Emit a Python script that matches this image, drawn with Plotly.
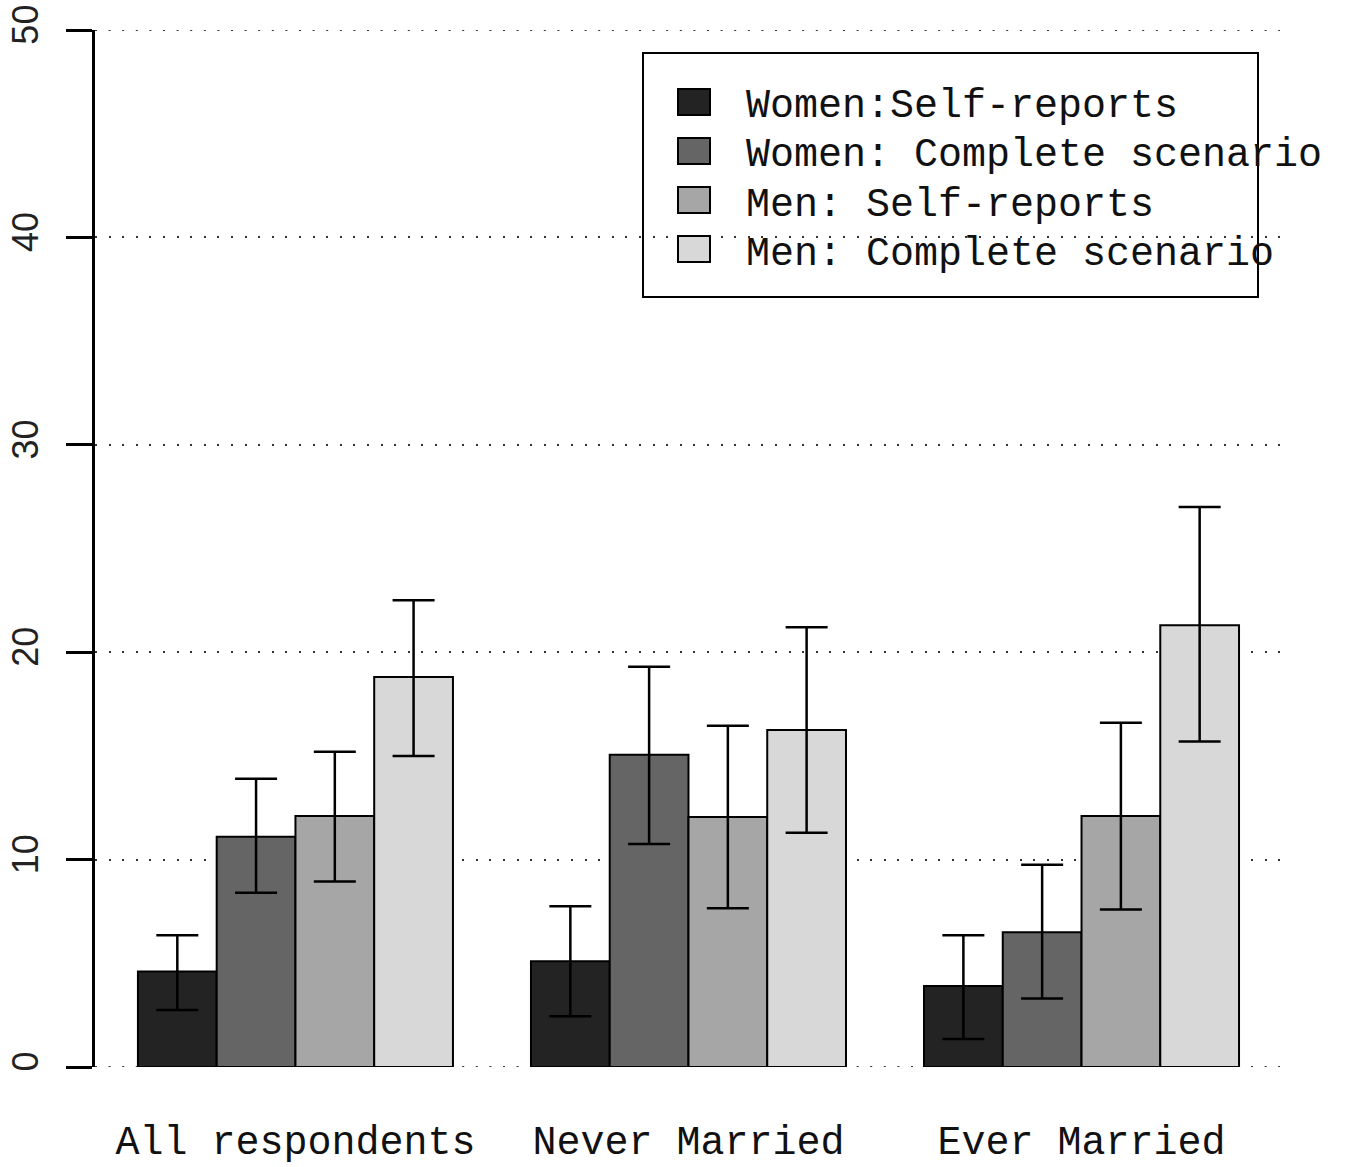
import plotly.graph_objects as go

categories = ["All respondents", "Never Married", "Ever Married"]
series_names = ["Women:Self-reports", "Women: Complete scenario",
                "Men: Self-reports", "Men: Complete scenario"]
colors = ["#232323", "#656565", "#a6a6a6", "#d8d8d8"]

women_self = [4.6, 5.1, 3.9]
women_complete = [11.1, 15.05, 6.5]
men_self = [12.1, 12.05, 12.1]
men_complete = [18.8, 16.25, 21.3]

women_self_hi = [6.35, 7.75, 6.35]
women_self_lo = [2.75, 2.45, 1.35]
women_complete_hi = [13.9, 19.3, 9.75]
women_complete_lo = [8.4, 10.75, 3.3]
men_self_hi = [15.2, 16.45, 16.6]
men_self_lo = [8.95, 7.65, 7.6]
men_complete_hi = [22.5, 21.2, 27.0]
men_complete_lo = [15.0, 11.3, 15.7]

values = [women_self, women_complete, men_self, men_complete]
highs = [women_self_hi, women_complete_hi, men_self_hi, men_complete_hi]
lows = [women_self_lo, women_complete_lo, men_self_lo, men_complete_lo]

y_ticks = [0, 10, 20, 30, 40, 50]

fig = go.Figure()
for name, col, v, hi, lo in zip(series_names, colors, values, highs, lows):
    fig.add_trace(go.Bar(
        x=categories, y=v, name=name,
        marker=dict(color=col, line=dict(color="black", width=2)),
        error_y=dict(type="data", symmetric=False,
                     array=[h - a for h, a in zip(hi, v)],
                     arrayminus=[a - l for l, a in zip(lo, v)],
                     color="black", thickness=2.5, width=21),
        showlegend=False,
    ))

FW, FH = 1353, 1167
L, R, T, B = 95, 73, 30, 100
W = FW - L - R
H = FH - T - B

def px(x):
    return (x - L) / W

def py(y):
    return (FH - B - y) / H

shapes = []
# edge gridlines (plotly omits grid lines at the range ends)
for gv in (y_ticks[0], y_ticks[-1]):
    shapes.append(dict(type="line", xref="paper", yref="y", x0=0, x1=1,
                       y0=gv, y1=gv, layer="below",
                       line=dict(color="#333333", width=2, dash="2px,11.6px")))
shapes.append(dict(type="rect", xref="paper", yref="paper",
                   x0=px(643), x1=px(1258), y0=py(297), y1=py(53),
                   line=dict(color="black", width=2), fillcolor="rgba(0,0,0,0)"))
annotations = []
row_y = [102, 151, 200, 249]
for name, col, ry in zip(series_names, colors, row_y):
    shapes.append(dict(type="rect", xref="paper", yref="paper",
                       x0=px(678), x1=px(710), y0=py(ry + 13), y1=py(ry - 13),
                       line=dict(color="black", width=2), fillcolor=col))
    annotations.append(dict(xref="paper", yref="paper", x=px(744), y=py(ry + 5),
                            xanchor="left", yanchor="middle", showarrow=False,
                            text=name,
                            font=dict(family="Liberation Mono", size=40, color="#111111")))

fig.update_layout(
    width=FW, height=FH,
    margin=dict(l=L, r=R, t=T, b=B, autoexpand=False),
    paper_bgcolor="white", plot_bgcolor="white",
    barmode="group", bargap=0.1985, bargroupgap=0,
    shapes=shapes, annotations=annotations,
    showlegend=False,
)
fig.update_xaxes(type="category", range=[-0.51, 2.505], showline=False,
                 ticks="", showgrid=False, zeroline=False, automargin=False,
                 tickfont=dict(family="Liberation Mono", size=40, color="#111111"),
                 ticklabelstandoff=46)
fig.update_yaxes(range=[0, 50], tickvals=y_ticks, ticks="outside", ticklen=26,
                 tickwidth=2.5, tickcolor="black", showline=True, linewidth=2.5,
                 linecolor="black", showgrid=True, gridcolor="#333333",
                 gridwidth=2, griddash="2px,11.6px", zeroline=False,
                 tickangle=-90, automargin=False,
                 tickfont=dict(family="Liberation Sans", size=36, color="#222222"),
                 ticklabelstandoff=14)

fig.write_html("out.html", config={"displayModeBar": False},
               post_script="document.body.style.margin='0px';document.body.style.overflow='hidden';")
